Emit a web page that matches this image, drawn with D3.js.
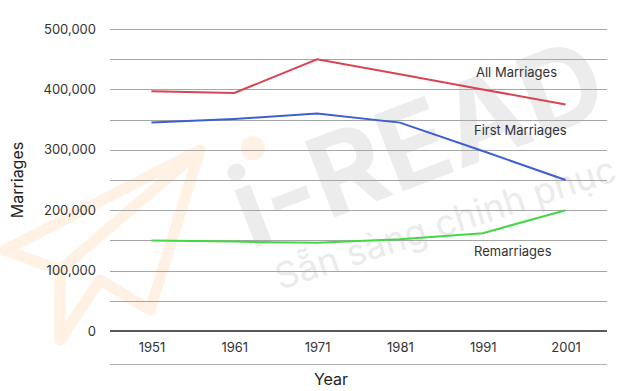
<!DOCTYPE html>
<html><head><meta charset="utf-8">
<script src="https://cdn.jsdelivr.net/npm/d3@7"></script>
<style>body{margin:0;background:#fff}svg{display:block;font-family:Inter,Roboto,sans-serif}</style>
</head><body><svg id="c" width="623" height="391"></svg>
<script>
const years = ["1951","1961","1971","1981","1991","2001"];
const allMarriages = [397000, 394000, 450000, 425000, 400000, 375000];
const firstMarriages = [345000, 351000, 360000, 345000, 298000, 250000];
const remarriages = [150000, 148000, 146000, 152000, 162000, 200000];
const yTicks = [0,100000,200000,300000,400000,500000];
const gridTicks = [0,50000,100000,150000,200000,250000,300000,350000,400000,450000,500000];
const seriesNames = ["All Marriages","First Marriages","Remarriages"];
const seriesColors = ["#d94453","#3d5fd4","#45d845"];

const svg = d3.select("#c");
const L=110,R=607,T=29,B=331;
const x = d3.scalePoint().domain(years).range([L,R]).padding(0.5);
const y = d3.scaleLinear().domain([0,500000]).range([B,T]);

// watermark
const wm = svg.append("g");
wm.append("path").attr("d","M5,250 L200,150 L150,310 L100,280 L60,340 L60,270 Z M60,270 L200,150")
  .attr("fill","none").attr("stroke","#fff1e3").attr("stroke-width",11).attr("stroke-linejoin","round");
wm.append("circle").attr("cx",253).attr("cy",148).attr("r",12).attr("fill","#fff1e3");
wm.append("text").attr("transform","translate(250,250) rotate(-21)").attr("font-size",112).attr("font-weight",700)
  .attr("fill","#ececec").text("i-READ");
wm.append("text").attr("transform","translate(280,290) rotate(-18)").attr("font-size",36)
  .attr("fill","#ebebeb").text("Sẵn sàng chinh phục");

// grid
svg.append("g").selectAll("line").data(gridTicks.filter(d=>d>0)).join("line")
  .attr("x1",L).attr("x2",R).attr("y1",d=>Math.round(y(d))+0.5).attr("y2",d=>Math.round(y(d))+0.5)
  .attr("stroke","#a6a6a6").attr("stroke-width",1);
svg.append("line").attr("x1",L).attr("x2",R).attr("y1",y(0)).attr("y2",y(0)).attr("stroke","#595959").attr("stroke-width",2);
svg.append("line").attr("x1",L).attr("x2",R).attr("y1",364.5).attr("y2",364.5).attr("stroke","#b0b0b0").attr("stroke-width",1);

// y axis labels
const yAxis = d3.axisLeft(y).tickValues(yTicks).tickSize(0).tickPadding(14).tickFormat(d3.format(","));
const ga = svg.append("g").attr("transform",`translate(${L},0)`).call(yAxis);
ga.select(".domain").remove();
ga.selectAll("text").attr("font-size",13).attr("fill","#333").attr("font-family","Inter,Roboto,sans-serif");

// x axis labels
const xAxis = d3.axisBottom(x).tickSize(0).tickPadding(12);
const gx = svg.append("g").attr("transform",`translate(0,${B})`).call(xAxis);
gx.select(".domain").remove();
gx.selectAll("text").attr("font-size",13).attr("fill","#333").attr("font-family","Inter,Roboto,sans-serif");

// lines
const data = [allMarriages, firstMarriages, remarriages];
const line = d3.line().x((d,i)=>x(years[i])).y(d=>y(d));
svg.append("g").selectAll("path").data(data).join("path")
  .attr("d",line).attr("fill","none").attr("stroke",(d,i)=>seriesColors[i]).attr("stroke-width",2);

// labels
const labPos = [[476,77],[474,135],[474,256]];
svg.append("g").selectAll("text").data(seriesNames).join("text")
  .attr("x",(d,i)=>labPos[i][0]).attr("y",(d,i)=>labPos[i][1]).attr("font-size",13).attr("fill","#333").text(d=>d);

// axis titles
svg.append("text").attr("transform","translate(23,180) rotate(-90)").attr("text-anchor","middle")
  .attr("font-size",16).attr("fill","#222").text("Marriages");
svg.append("text").attr("x",331).attr("y",385).attr("text-anchor","middle")
  .attr("font-size",16).attr("fill","#222").text("Year");
</script></body></html>
